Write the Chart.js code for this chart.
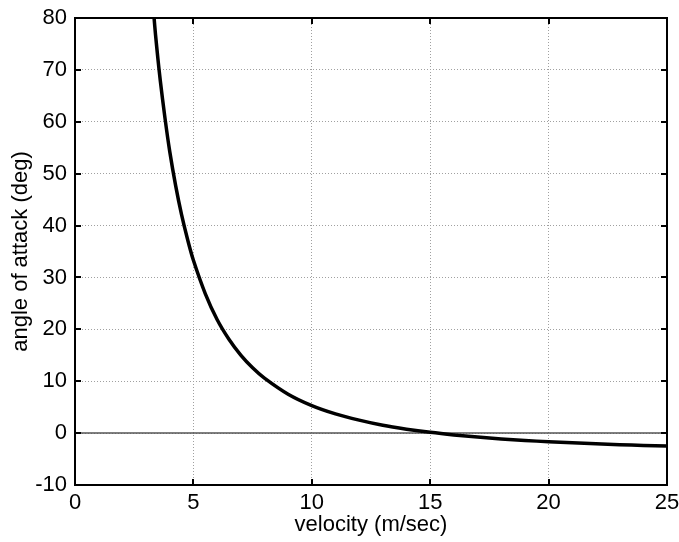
<!DOCTYPE html>
<html>
<head>
<meta charset="utf-8">
<script src="https://cdn.jsdelivr.net/npm/chart.js@4/dist/chart.umd.min.js"></script>
<style>
  html, body { margin: 0; padding: 0; background: #fff; }
  #wrap { width: 679px; height: 542px; }
</style>
</head>
<body>
<div id="wrap"><canvas id="c" width="679" height="542"></canvas></div>
<script>
// velocity (m/sec) and angle of attack (deg)
const velocity = [3.34, 3.4, 3.5, 3.6, 3.8, 4.0, 4.25, 4.5, 4.75, 5.0, 5.5, 6.0, 6.5, 7.0, 7.5, 8.0, 9.0, 10, 11, 12, 13, 14, 15, 16, 17, 18, 19, 20, 21, 22, 23, 24, 25];
const angleOfAttack = [80, 76.8, 72.2, 68.0, 60.7, 54.3, 47.7, 42.1, 37.4, 33.3, 26.9, 21.9, 18.1, 15.05, 12.6, 10.6, 7.5, 5.3, 3.7, 2.5, 1.5, 0.76, 0.15, -0.35, -0.77, -1.12, -1.41, -1.67, -1.88, -2.07, -2.24, -2.38, -2.5];
const zeroLineX = [0, 25];
const zeroLineY = [0, 0];
const xTicks = [0, 5, 10, 15, 20, 25];
const yTicks = [-10, 0, 10, 20, 30, 40, 50, 60, 70, 80];

const FONT = "'Liberation Sans', Arial, Helvetica, sans-serif";

const curve = velocity.map((v, i) => ({ x: v, y: angleOfAttack[i] }));
const zero = zeroLineX.map((v, i) => ({ x: v, y: zeroLineY[i] }));

const boxPlugin = {
  id: 'box',
  afterDraw(chart) {
    const { ctx, chartArea: a, scales } = chart;
    ctx.save();
    ctx.setLineDash([]);
    ctx.strokeStyle = '#000';
    ctx.lineWidth = 2;
    const L = 6;
    ctx.beginPath();
    xTicks.forEach(t => {
      const px = Math.round(scales.x.getPixelForValue(t));
      ctx.moveTo(px, a.bottom); ctx.lineTo(px, a.bottom - L);
      ctx.moveTo(px, a.top); ctx.lineTo(px, a.top + L);
    });
    yTicks.forEach(t => {
      const py = Math.round(scales.y.getPixelForValue(t));
      ctx.moveTo(a.left, py); ctx.lineTo(a.left + L, py);
      ctx.moveTo(a.right, py); ctx.lineTo(a.right - L, py);
    });
    ctx.stroke();
    ctx.strokeRect(a.left, a.top, a.right - a.left, a.bottom - a.top);
    ctx.restore();
  }
};

new Chart(document.getElementById('c'), {
  type: 'scatter',
  data: {
    datasets: [
      {
        data: curve,
        showLine: true,
        borderColor: '#000',
        borderWidth: 3.5,
        pointRadius: 0,
        tension: 0.3,
        order: 1
      },
      {
        data: zero,
        showLine: true,
        borderColor: '#555',
        borderWidth: 1.5,
        pointRadius: 0,
        order: 2
      }
    ]
  },
  options: {
    responsive: false,
    animation: false,
    events: [],
    layout: { padding: { left: 0, right: 12, top: 18, bottom: 0 } },
    plugins: { legend: { display: false }, tooltip: { enabled: false } },
    scales: {
      x: {
        type: 'linear',
        min: 0, max: 25,
        afterBuildTicks(s) { s.ticks = xTicks.map(v => ({ value: v })); },
        afterFit(s) { s.height = 57; s.paddingLeft = 0; s.paddingRight = 0; },
        ticks: { color: '#000', padding: 5, maxRotation: 0, font: { family: FONT, size: 22 } },
        grid: { color: '#a0a0a0', lineWidth: 1, drawTicks: false },
        border: { display: true, color: '#000', width: 2, dash: [1, 2] },
        title: {
          display: true, text: 'velocity (m/sec)', color: '#000',
          font: { family: FONT, size: 22 }, padding: { top: 0, bottom: 4 }
        }
      },
      y: {
        type: 'linear',
        min: -10, max: 80,
        afterBuildTicks(s) { s.ticks = yTicks.map(v => ({ value: v })); },
        afterFit(s) { s.width = 75; s.paddingTop = 0; s.paddingBottom = 0; },
        ticks: { color: '#000', padding: 8, font: { family: FONT, size: 22 } },
        grid: { color: '#a0a0a0', lineWidth: 1, drawTicks: false },
        border: { display: true, color: '#000', width: 2, dash: [1, 2] },
        title: {
          display: true, text: 'angle of attack (deg)', color: '#000',
          font: { family: FONT, size: 22 }, padding: { top: 8, bottom: 0 }
        }
      }
    }
  },
  plugins: [boxPlugin]
});
</script>
</body>
</html>
